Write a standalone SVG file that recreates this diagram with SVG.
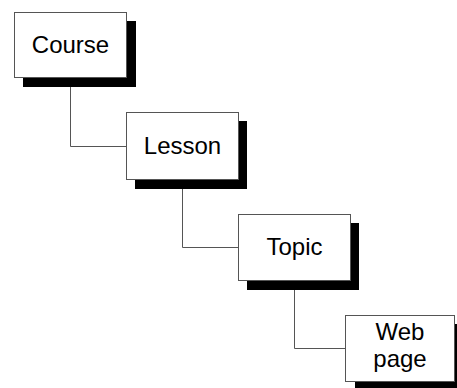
<svg xmlns="http://www.w3.org/2000/svg" width="457" height="388" viewBox="0 0 457 388">
<style>
.shadow{fill:#000}
.box{fill:#fff;stroke:#555;stroke-width:1}
.lbl{font-family:"Liberation Sans",Arial,sans-serif;font-size:24px;fill:#000;text-anchor:middle}
.conn{fill:none;stroke:#555;stroke-width:1}
</style>
<rect width="457" height="388" fill="#fff"/>
<g id="connectors">
<polyline class="conn" points="70.5,87 70.5,146.5 126,146.5"/>
<polyline class="conn" points="182.5,189 182.5,247.5 238,247.5"/>
<polyline class="conn" points="294.5,290 294.5,348.5 345,348.5"/>
</g>
<g id="course">
<rect class="shadow" x="23" y="21" width="113" height="66"/>
<rect class="box" x="14.5" y="12.5" width="112" height="65"/>
<text class="lbl" x="70.5" y="52.5">Course</text>
</g>
<g id="lesson">
<rect class="shadow" x="135" y="121" width="112" height="68"/>
<rect class="box" x="126.5" y="112.5" width="112" height="67"/>
<text class="lbl" x="182.5" y="154">Lesson</text>
</g>
<g id="topic">
<rect class="shadow" x="247" y="223" width="112" height="67"/>
<rect class="box" x="238.5" y="214.5" width="112" height="66"/>
<text class="lbl" x="294.5" y="255">Topic</text>
</g>
<g id="webpage">
<rect class="shadow" x="355" y="324" width="110" height="70"/>
<rect class="box" x="345.5" y="315.5" width="109" height="66"/>
<text class="lbl" x="400" y="340">Web</text>
<text class="lbl" x="400" y="367">page</text>
</g>
</svg>
